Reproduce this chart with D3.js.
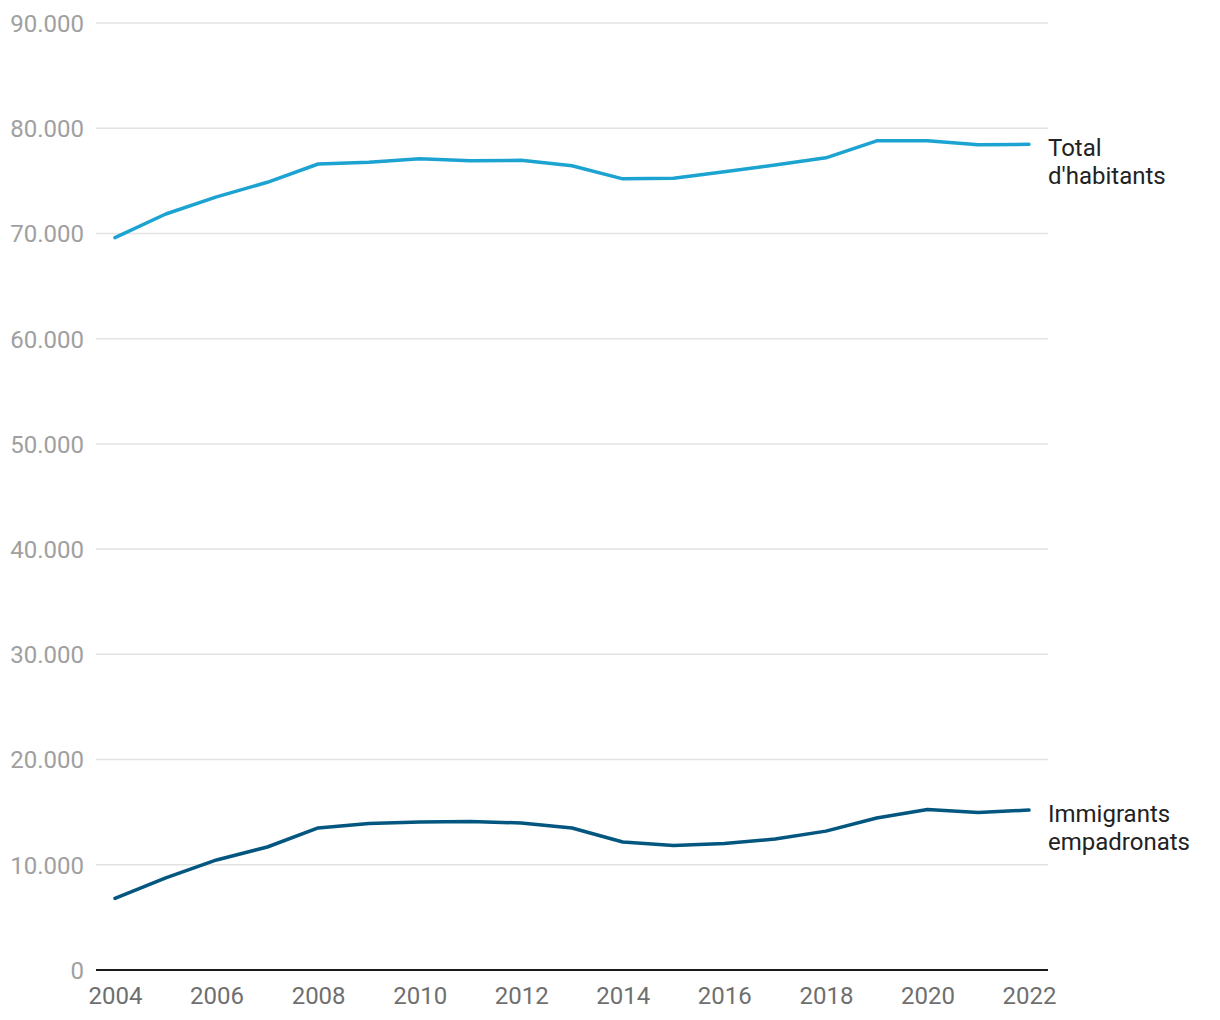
<!DOCTYPE html>
<html>
<head>
<meta charset="utf-8">
<script src="https://cdn.jsdelivr.net/npm/d3@7"></script>
<style>
  body { margin: 0; background: #fff; }
  svg text { font-family: "Roboto", "Noto Sans", sans-serif; }
  .grid line { stroke: #e2e2e2; stroke-width: 1.5; }
  .yaxis text { fill: #a0a0a0; font-size: 24px; }
  .xaxis text { fill: #6f6f6f; font-size: 24px; }
  .label { fill: #222; font-size: 24px; }
</style>
</head>
<body>
<svg id="chart" width="1220" height="1020"></svg>
<script>
const years = [2004, 2005, 2006, 2007, 2008, 2009, 2010, 2011, 2012, 2013,
  2014, 2015, 2016, 2017, 2018, 2019, 2020, 2021, 2022];
const totalHabitants = [69600, 71850, 73480, 74860, 76600, 76760, 77100, 76900, 76950, 76430,
  75190, 75240, 75860, 76500, 77190, 78800, 78800, 78420, 78470];
const immigrants = [6800, 8750, 10460, 11690, 13500, 13930, 14070, 14120, 13970, 13500,
  12170, 11830, 12020, 12450, 13200, 14450, 15260, 14970, 15200];
const yTicks = [0, 10000, 20000, 30000, 40000, 50000, 60000, 70000, 80000, 90000];
const xTicks = [2004, 2006, 2008, 2010, 2012, 2014, 2016, 2018, 2020, 2022];

const series = [
  { name: ["Total", "d'habitants"], values: totalHabitants, color: "#1ca3d1" },
  { name: ["Immigrants", "empadronats"], values: immigrants, color: "#03567f" }
];

translate = function(a, b) {
  return "translate(" + a + ", " + b + ")";
}

const svg = d3.select("#chart");

let x = d3.scaleLinear().domain([2004, 2022]).range([115, 1029]);
let y = d3.scaleLinear().domain([0, 90000]).range([970, 23]);

// gridlines
let grid = svg.append("g").attr("class", "grid");
grid.selectAll("line")
  .data(yTicks.filter(d => d > 0))
  .enter()
  .append("line")
  .attr("x1", 96)
  .attr("x2", 1048)
  .attr("y1", d => y(d))
  .attr("y2", d => y(d));

// y axis labels
let yAxis = d3.axisLeft(y)
  .tickValues(yTicks)
  .tickSize(0)
  .tickPadding(0)
  .tickFormat(d => d3.format(",")(d).replace(/,/g, "."));
let yGroup = svg.append("g").attr("class", "yaxis").attr("transform", translate(84, 0));
yGroup.call(yAxis);
yGroup.select(".domain").remove();
yGroup.selectAll("text").attr("dy", "0.35em");

// x axis
let xAxis = d3.axisBottom(x)
  .tickValues(xTicks)
  .tickSize(0)
  .tickPadding(0)
  .tickFormat(d3.format("d"));
let xGroup = svg.append("g").attr("class", "xaxis").attr("transform", translate(0, 970));
xGroup.call(xAxis);
xGroup.select(".domain").remove();
xGroup.selectAll("text").attr("y", 34).attr("dy", 0);

svg.append("line")
  .attr("x1", 96)
  .attr("x2", 1048)
  .attr("y1", y(0))
  .attr("y2", y(0))
  .attr("stroke", "#1a1a1a")
  .attr("stroke-width", 2);

// lines
let line = d3.line()
  .x((d, i) => x(years[i]))
  .y(d => y(d));

series.forEach(function(s) {
  svg.append("path")
    .datum(s.values)
    .attr("fill", "none")
    .attr("stroke", s.color)
    .attr("stroke-width", 3.5)
    .attr("stroke-linejoin", "round")
    .attr("stroke-linecap", "round")
    .attr("d", line);

  let last = s.values[s.values.length - 1];
  let label = svg.append("text")
    .attr("class", "label")
    .attr("x", 1048)
    .attr("y", y(last) + 12);
  s.name.forEach(function(t, i) {
    label.append("tspan")
      .attr("x", 1048)
      .attr("dy", i === 0 ? 0 : "1.15em")
      .text(t);
  });
});
</script>
</body>
</html>
